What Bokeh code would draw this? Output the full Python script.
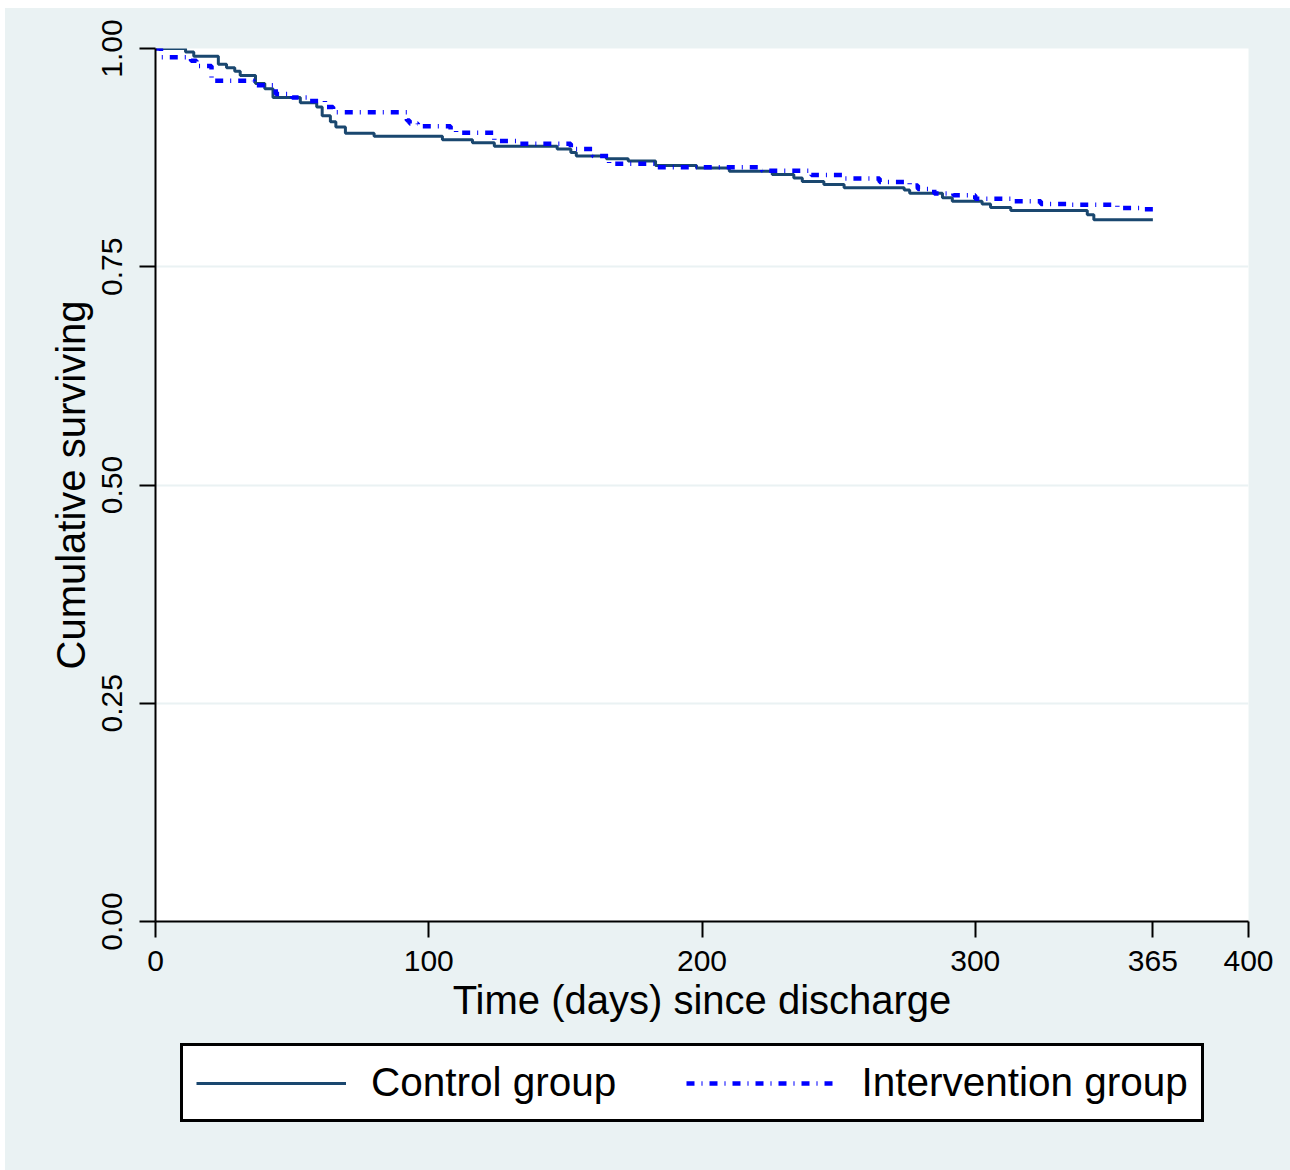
from bokeh.plotting import figure
from bokeh.layouts import column
from bokeh.models import Range1d, FixedTicker, Legend, LegendItem, NumeralTickFormatter
from bokeh.embed import file_html
from bokeh.resources import INLINE

# Kaplan-Meier step data
control_days = [0, 11, 14, 23, 26, 29, 31, 36.6, 40, 43, 53, 59, 61, 64, 66, 69.5, 80, 105, 116, 124,
                147, 152, 154, 165, 173, 183, 198, 210, 225.7, 233.6, 236.7, 244.6, 252, 274, 276,
                288, 291.6, 302.5, 305.6, 313, 341, 343.4, 365]
control_surv = [1.0, 0.996, 0.991, 0.982, 0.978, 0.974, 0.969, 0.960, 0.954, 0.944, 0.938, 0.933,
                0.923, 0.916, 0.910, 0.903, 0.8996, 0.8954, 0.892, 0.888, 0.885, 0.881, 0.877,
                0.8736, 0.871, 0.866, 0.863, 0.8594, 0.8557, 0.8518, 0.8476, 0.8442, 0.8404, 0.838,
                0.8343, 0.829, 0.825, 0.822, 0.818, 0.8144, 0.8095, 0.8037, 0.8037]

intervention_days = [0, 2, 13, 15, 20.5, 36, 44, 50, 56, 62, 65, 92, 93, 96, 108, 110, 124, 133,
                     152, 160, 166, 183, 222, 240, 252, 265, 276, 279, 285, 292, 300, 314, 324,
                     335, 352, 362, 365]
intervention_surv = [1.0, 0.99, 0.986, 0.98, 0.963, 0.958, 0.948, 0.944, 0.940, 0.933, 0.927,
                     0.9175, 0.914, 0.911, 0.907, 0.9034, 0.894, 0.891, 0.885, 0.877, 0.868, 0.864,
                     0.860, 0.855, 0.851, 0.847, 0.843, 0.839, 0.834, 0.832, 0.828, 0.825, 0.822,
                     0.821, 0.8174, 0.816, 0.816]

x_ticks = [0, 100, 200, 300, 365, 400]
y_ticks = [0.0, 0.25, 0.5, 0.75, 1.0]
x_title = "Time (days) since discharge"
y_title = "Cumulative surviving"
series_labels = ["Control group", "Intervention group"]

BG = "#eaf2f3"
FONT = "Liberation Sans"
CONTROL_STYLE = dict(line_color="#1a476f", line_width=3)
INTERV_STYLE = dict(line_color="#0000ff", line_width=4.5, line_dash="8 7 1 7")

W = 1285
p = figure(width=W, height=1030, output_backend="svg", toolbar_location=None,
           x_range=Range1d(0, 400), y_range=Range1d(0, 1),
           min_border_left=150, min_border_top=40, min_border_right=42, min_border_bottom=117,
           background_fill_color="white", border_fill_color=BG)
p.outline_line_color = None

p.step(control_days, control_surv, mode="after", **CONTROL_STYLE)
p.step(intervention_days, intervention_surv, mode="after", **INTERV_STYLE)

# axes
p.xaxis.ticker = FixedTicker(ticks=x_ticks)
p.yaxis.ticker = FixedTicker(ticks=y_ticks)
p.yaxis.formatter = NumeralTickFormatter(format="0.00")
for ax in (p.xaxis[0], p.yaxis[0]):
    ax.axis_line_color = "black"
    ax.axis_line_width = 2
    ax.major_tick_line_color = "black"
    ax.major_tick_line_width = 2
    ax.major_tick_out = 16
    ax.major_tick_in = 0
    ax.minor_tick_line_color = None
    ax.major_label_text_font = FONT
    ax.major_label_text_font_size = "30px"
    ax.major_label_text_color = "black"
    ax.axis_label_text_font = FONT
    ax.axis_label_text_font_size = "40px"
    ax.axis_label_text_font_style = "normal"
    ax.axis_label_text_color = "black"

p.xaxis.axis_label = x_title
p.xaxis.major_label_standoff = 13
p.xaxis.axis_label_standoff = 4
p.yaxis.axis_label = y_title
p.yaxis.major_label_orientation = "vertical"
p.yaxis.major_label_standoff = 18
p.yaxis.axis_label_standoff = 6

p.xgrid.grid_line_color = None
p.ygrid.ticker = FixedTicker(ticks=y_ticks)
p.ygrid.grid_line_color = BG
p.ygrid.grid_line_width = 2

# legend strip underneath: same series drawn out of view, only their legend is visible
lg = figure(width=W, height=132, output_backend="svg", toolbar_location=None,
            x_range=Range1d(1000, 1001), y_range=Range1d(1000, 1001),
            min_border_left=0, min_border_right=0, min_border_top=0, min_border_bottom=0,
            background_fill_color=BG, border_fill_color=BG)
lg.outline_line_color = None
lg.axis.visible = False
lg.grid.visible = False
d1 = lg.step(control_days, control_surv, mode="after", **CONTROL_STYLE)
d2 = lg.step(intervention_days, intervention_surv, mode="after", **INTERV_STYLE)

legend = Legend(items=[LegendItem(label=series_labels[0], renderers=[d1]),
                       LegendItem(label=series_labels[1], renderers=[d2])],
                orientation="horizontal", location=(25, 48),
                label_text_font=FONT, label_text_font_size="40.5px", label_text_color="black",
                glyph_width=150, glyph_height=30, label_standoff=25, spacing=70,
                padding=13, margin=0,
                border_line_color="black", border_line_width=3, border_line_alpha=1.0,
                background_fill_color="white", background_fill_alpha=1.0)
lg.add_layout(legend)

layout = column(p, lg, spacing=0, margin=(8, 0, 0, 5), background=BG)

open("out.html", "w").write(file_html(layout, INLINE))
